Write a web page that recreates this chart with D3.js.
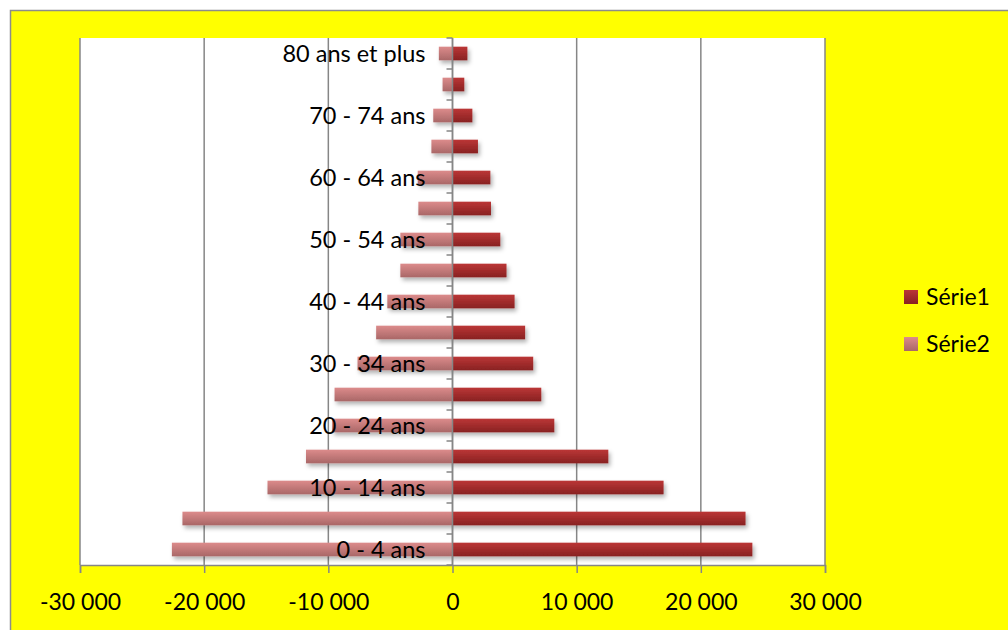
<!DOCTYPE html>
<html>
<head>
<meta charset="utf-8">
<script src="https://cdn.jsdelivr.net/npm/d3@7"></script>
<style>
  body { margin: 0; background: #fff; }
  svg { display: block; font-family: Lato, "Open Sans", sans-serif; }
</style>
</head>
<body>
<svg id="chart" width="1008" height="630"></svg>
<script>
const categories = ['0 - 4 ans', '5 - 9 ans', '10 - 14 ans', '15 - 19 ans', '20 - 24 ans', '25 - 29 ans',
    '30 - 34 ans', '35 - 39 ans', '40 - 44 ans', '45 - 49 ans', '50 - 54 ans', '55 - 59 ans',
    '60 - 64 ans', '65 - 69 ans', '70 - 74 ans', '75 - 79 ans', '80 ans et plus'];
const serie1 = [24150, 23600, 17000, 12550, 8200, 7150, 6500, 5850, 5000, 4350, 3850, 3100,
    3050, 2050, 1600, 950, 1200];
const serie2 = [-22600, -21750, -14900, -11800, -9700, -9500, -7650, -6150, -5250, -4200, -4200, -2750,
    -2800, -1700, -1550, -800, -1100];
const xTicks = [-30000, -20000, -10000, 0, 10000, 20000, 30000];
const shownLabels = categories.filter((c, i) => i % 2 === 0);

const svg = d3.select('#chart');
const mLeft = 80, mRight = 825, mTop = 38, mBottom = 565;

// chart area
svg.append('rect').attr('x', 10.5).attr('y', 10.5).attr('width', 1010).attr('height', 640)
    .attr('fill', '#ffff00').attr('stroke', '#8c8c8c').attr('stroke-width', 1.5);
svg.append('rect').attr('x', mLeft).attr('y', mTop).attr('width', mRight - mLeft).attr('height', mBottom - mTop)
    .attr('fill', '#fff');

const x = d3.scaleLinear().domain([-30000, 30000]).range([mLeft, mRight]);
const y = d3.scaleBand().domain(categories.slice().reverse()).range([mTop, mBottom]).paddingInner(0.56).paddingOuter(0.28);
const yStep = d3.scaleBand().domain(categories.slice().reverse()).range([mTop, mBottom]);

const defs = svg.append('defs');
function grad(id, c1, c2) {
    const g = defs.append('linearGradient').attr('id', id).attr('x1', 0).attr('y1', 0).attr('x2', 0).attr('y2', 1);
    g.append('stop').attr('offset', '0%').attr('stop-color', c1);
    g.append('stop').attr('offset', '100%').attr('stop-color', c2);
}
grad('g1', '#bb3636', '#882222');
grad('g2', '#dc8b8b', '#a96767');
const f = defs.append('filter').attr('id', 'shadow').attr('x', '-10%').attr('y', '-50%').attr('width', '130%').attr('height', '250%');
f.append('feDropShadow').attr('dx', 2).attr('dy', 3).attr('stdDeviation', 2).attr('flood-color', '#000').attr('flood-opacity', 0.3);

// gridlines
svg.append('g').selectAll('line').data(xTicks).join('line')
    .attr('x1', d => x(d)).attr('x2', d => x(d)).attr('y1', mTop).attr('y2', mBottom)
    .attr('stroke', '#868686').attr('stroke-width', 1.5);

// bars
const bars = svg.append('g').attr('filter', 'url(#shadow)');
bars.selectAll('rect.s2').data(serie2).join('rect').attr('class', 's2')
    .attr('x', d => x(d)).attr('width', d => x(0) - x(d))
    .attr('y', (d, i) => y(categories[i])).attr('height', y.bandwidth())
    .attr('fill', 'url(#g2)');
bars.selectAll('rect.s1').data(serie1).join('rect').attr('class', 's1')
    .attr('x', x(0)).attr('width', d => x(d) - x(0))
    .attr('y', (d, i) => y(categories[i])).attr('height', y.bandwidth())
    .attr('fill', 'url(#g1)');

// x axis
const xAxis = svg.append('g').attr('transform', `translate(0,${mBottom})`)
    .call(d3.axisBottom(x).tickValues(xTicks).tickSize(8).tickPadding(21)
        .tickFormat(d => d3.format(',')(d).replace(/,/g, ' ').replace('−', '-')));
xAxis.select('.domain').attr('stroke', '#868686').attr('stroke-width', 1.5);
xAxis.selectAll('.tick line').attr('stroke', '#868686').attr('stroke-width', 1.5);
xAxis.selectAll('text').attr('font-size', 23).attr('fill', '#000').attr('font-family', 'Lato, sans-serif');

// category axis at zero
const bounds = d3.range(categories.length + 1).map(i => mTop + i * yStep.step());
svg.append('line').attr('x1', x(0)).attr('x2', x(0)).attr('y1', mTop).attr('y2', mBottom)
    .attr('stroke', '#868686').attr('stroke-width', 1.5);
svg.append('g').selectAll('line').data(bounds).join('line')
    .attr('x1', x(0) - 6).attr('x2', x(0)).attr('y1', d => d).attr('y2', d => d)
    .attr('stroke', '#868686').attr('stroke-width', 1.5);
svg.append('g').selectAll('text').data(shownLabels).join('text')
    .attr('x', x(0) - 27).attr('y', d => yStep(d) + yStep.bandwidth() / 2)
    .attr('dy', '0.35em').attr('text-anchor', 'end').attr('font-size', 23.5).attr('fill', '#000')
    .text(d => d);

// legend
const legend = [{ name: 'Série1', fill: 'url(#g1)' }, { name: 'Série2', fill: 'url(#g2)' }];
const lg = svg.append('g').selectAll('g').data(legend).join('g')
    .attr('transform', (d, i) => `translate(904,${290 + i * 47})`);
lg.append('rect').attr('width', 14).attr('height', 14).attr('fill', d => d.fill);
lg.append('text').attr('x', 22).attr('y', 7).attr('dy', '0.35em').attr('font-size', 23).text(d => d.name);
</script>
</body>
</html>
